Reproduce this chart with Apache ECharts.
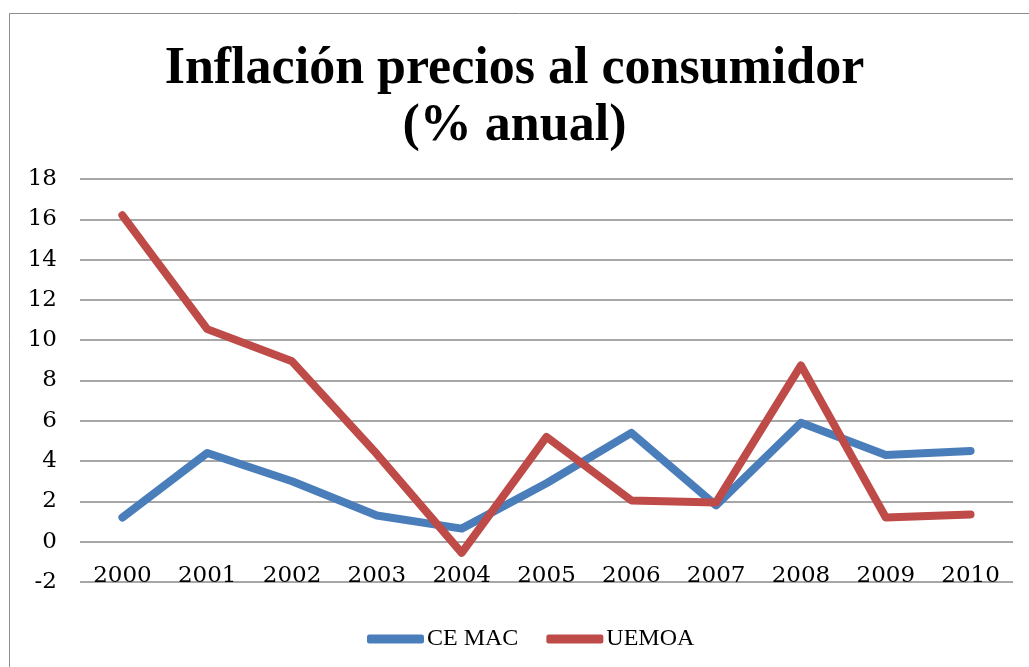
<!DOCTYPE html>
<html>
<head>
<meta charset="utf-8">
<script src="https://cdn.jsdelivr.net/npm/echarts@6/dist/echarts.min.js"></script>
<style>
  html, body { margin: 0; padding: 0; background: #fff; }
  #chart { width: 1029px; height: 667px; }
</style>
</head>
<body>
<div id="chart"></div>
<script>
// datos
var years = ['2000', '2001', '2002', '2003', '2004', '2005', '2006', '2007', '2008', '2009', '2010'];
var cemac = [1.2, 4.4, 3.0, 1.3, 0.65, 2.9, 5.4, 1.8, 5.9, 4.3, 4.5];
var uemoa = [16.2, 10.55, 8.95, 4.35, -0.55, 5.2, 2.05, 1.95, 8.75, 1.2, 1.35];
var seriesNames = ['CE MAC', 'UEMOA'];
var colors = ['#4A7EBB', '#BE4B48'];

var font = '"Liberation Serif", "DejaVu Serif", serif';
var numFont = '"DejaVu Serif", serif'; // cifras mas anchas, parecidas a Cambria
var myChart = echarts.init(document.getElementById('chart'));

myChart.setOption({
    backgroundColor: '#fff',
    animation: false,
    color: colors,
    title: {
        text: 'Inflación precios al consumidor\n(% anual)',
        left: 'center',
        top: 36,
        textStyle: {
            fontFamily: font,
            fontWeight: 'bold',
            fontSize: 52,
            lineHeight: 57,
            color: '#000'
        }
    },
    graphic: [{
        type: 'rect',
        shape: { x: 9.5, y: 13.5, width: 1030, height: 680 },
        style: { fill: 'none', stroke: '#8c8c8c', lineWidth: 1 },
        silent: true
    }],
    legend: {
        top: 622,
        left: 362,
        itemWidth: 57,
        itemHeight: 9,
        itemGap: 28,
        icon: 'roundRect',
        textStyle: { fontFamily: font, fontSize: 24, color: '#000', padding: [0, 0, 0, -2] },
        data: seriesNames
    },
    grid: {
        left: 80,
        right: 16,
        top: 179,
        bottom: 85,
        containLabel: false
    },
    xAxis: {
        type: 'category',
        data: years,
        boundaryGap: true,
        axisLine: { show: false },
        axisTick: { show: false },
        axisLabel: {
            fontFamily: numFont,
            fontSize: 23,
            color: '#000',
            margin: -17
        }
    },
    yAxis: {
        type: 'value',
        min: -2,
        max: 18,
        interval: 2,
        axisLine: { show: false },
        axisTick: { show: false },
        axisLabel: {
            fontFamily: numFont,
            fontSize: 23,
            color: '#000',
            margin: 23
        },
        splitLine: { lineStyle: { color: '#8a8a8a', width: 1.5 } }
    },
    series: [{
        name: seriesNames[0],
        type: 'line',
        data: cemac,
        symbol: 'none',
        lineStyle: { width: 8, cap: 'round', join: 'round' },
        z: 3
    }, {
        name: seriesNames[1],
        type: 'line',
        data: uemoa,
        symbol: 'none',
        lineStyle: { width: 8, cap: 'round', join: 'round' },
        z: 4
    }]
});
</script>
</body>
</html>
